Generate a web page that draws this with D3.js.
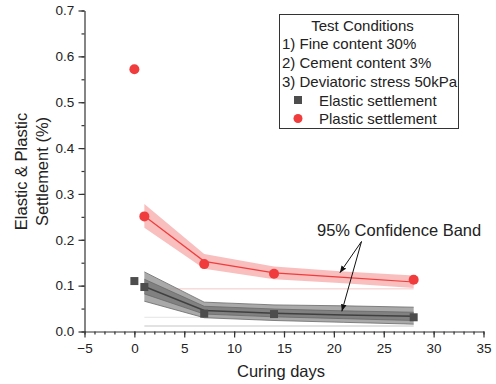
<!DOCTYPE html>
<html><head><meta charset="utf-8">
<script src="https://cdn.jsdelivr.net/npm/d3@7"></script>
<style>body{margin:0;background:#fff}svg{display:block;font-family:Arial,"Liberation Sans",sans-serif}</style>
</head><body>
<svg id="c" width="496" height="384"></svg>
<script>
const elasticDays = [0, 1, 7, 14, 28];
const elasticValues = [0.110, 0.097, 0.039, 0.038, 0.031];
const plasticDays = [0, 1, 7, 14, 28];
const plasticValues = [0.572, 0.251, 0.147, 0.126, 0.113];
const fitDays = [1, 7, 14, 21, 28];
const plasticFit = [0.252, 0.153, 0.128, 0.118, 0.108];
const plasticLower = [0.226, 0.137, 0.114, 0.105, 0.095];
const plasticUpper = [0.278, 0.169, 0.142, 0.131, 0.122];
const elasticFit = [0.098, 0.046, 0.040, 0.036, 0.033];
const elasticLower = [0.066, 0.030, 0.024, 0.020, 0.016];
const elasticUpper = [0.130, 0.064, 0.058, 0.056, 0.053];
const elasticInnerLower = [0.082, 0.038, 0.032, 0.028, 0.024];
const elasticInnerUpper = [0.114, 0.055, 0.049, 0.045, 0.042];
const xTicks = [-5, 0, 5, 10, 15, 20, 25, 30, 35];
const yTicks = [0.0, 0.1, 0.2, 0.3, 0.4, 0.5, 0.6, 0.7];
const legendLines = ["Test Conditions", "1) Fine content 30%", "2) Cement content 3%", "3) Deviatoric stress 50kPa"];
const seriesNames = ["Elastic settlement", "Plastic settlement"];

const svg = d3.select("#c");
const x = d3.scaleLinear().domain([-5, 35]).range([84.5, 483.5]);
const y = d3.scaleLinear().domain([0, 0.7]).range([331.5, 10.5]);
const red = "#f03c3c", gray = "#4d4d4d";

// faint artifact lines
svg.append("line").attr("x1", x(1)).attr("x2", x(28)).attr("y1", y(0.093)).attr("y2", y(0.093)).attr("stroke", "#f4c8c8").attr("stroke-width", 1);
svg.append("line").attr("x1", x(1)).attr("x2", x(28)).attr("y1", y(0.031)).attr("y2", y(0.031)).attr("stroke", "#e4e4e4").attr("stroke-width", 1);
svg.append("line").attr("x1", x(1)).attr("x2", x(28)).attr("y1", y(0.012)).attr("y2", y(0.012)).attr("stroke", "#d8d8d8").attr("stroke-width", 1.5);

const area = (lo, hi) => d3.area().x((d, i) => x(fitDays[i])).y0((d, i) => y(lo[i])).y1((d, i) => y(hi[i]));
const line = arr => d3.line().x((d, i) => x(fitDays[i])).y((d, i) => y(arr[i]));

// plastic band
svg.append("path").datum(fitDays).attr("d", area(plasticLower, plasticUpper)).attr("fill", "#f7a8a8").attr("opacity", 0.75);
svg.append("path").datum(fitDays).attr("d", line(plasticFit)).attr("fill", "none").attr("stroke", red).attr("stroke-width", 1.2);

// elastic band
svg.append("path").datum(fitDays).attr("d", area(elasticLower, elasticUpper)).attr("fill", "#9a9a9a").attr("opacity", 0.85);
svg.append("path").datum(fitDays).attr("d", area(elasticInnerLower, elasticInnerUpper)).attr("fill", "#7c7c7c").attr("opacity", 0.9);
[elasticLower, elasticUpper, elasticInnerLower, elasticInnerUpper].forEach(a =>
  svg.append("path").datum(fitDays).attr("d", line(a)).attr("fill", "none").attr("stroke", "#6a6a6a").attr("stroke-width", 0.8));
svg.append("path").datum(fitDays).attr("d", line(elasticFit)).attr("fill", "none").attr("stroke", "#404040").attr("stroke-width", 1.5);

// markers
svg.selectAll("rect.e").data(elasticDays).enter().append("rect").attr("class", "e")
  .attr("x", (d, i) => x(d) - 4).attr("y", (d, i) => y(elasticValues[i]) - 4)
  .attr("width", 8).attr("height", 8).attr("fill", gray);
svg.selectAll("circle.p").data(plasticDays).enter().append("circle").attr("class", "p")
  .attr("cx", d => x(d)).attr("cy", (d, i) => y(plasticValues[i])).attr("r", 5).attr("fill", red);

// axes
const xAxis = svg.append("g").attr("transform", "translate(0,331.5)");
xAxis.call(d3.axisBottom(x).tickValues(d3.range(-5, 36, 1)).tickSize(3).tickFormat("")).call(g => g.select(".domain").remove());
xAxis.append("g").call(d3.axisBottom(x).tickValues(xTicks).tickSize(6).tickSizeOuter(0).tickFormat(d3.format("d")))
  .call(g => g.selectAll("text").attr("font-size", 13.5).attr("fill", "#222").attr("dy", "0.9em"));
xAxis.selectAll("line,path").attr("stroke", "#333").attr("stroke-width", 1.2);

const yAxis = svg.append("g").attr("transform", "translate(84.5,0)");
yAxis.call(d3.axisLeft(y).tickValues(d3.range(0, 0.701, 0.05)).tickSize(3).tickFormat("")).call(g => g.select(".domain").remove());
yAxis.append("g").call(d3.axisLeft(y).tickValues(yTicks).tickSize(6).tickSizeOuter(0).tickFormat(d3.format(".1f")))
  .call(g => g.selectAll("text").attr("font-size", 13.5).attr("fill", "#222").attr("dx", "-0.1em"));
yAxis.selectAll("line,path").attr("stroke", "#333").attr("stroke-width", 1.2);

// axis titles
svg.append("text").attr("x", 281).attr("y", 377).attr("text-anchor", "middle").attr("font-size", 16.5).attr("fill", "#222").text("Curing days");
const yt = svg.append("text").attr("transform", "translate(0,171.5) rotate(-90)").attr("text-anchor", "middle").attr("font-size", 16.5).attr("fill", "#222");
yt.append("tspan").attr("x", 0).attr("y", 27).text("Elastic & Plastic");
yt.append("tspan").attr("x", 0).attr("y", 48).text("Settlement (%)");

// legend
svg.append("rect").attr("x", 279.5).attr("y", 14.5).attr("width", 179).attr("height", 114).attr("fill", "#fff").attr("stroke", "#333").attr("stroke-width", 1);
legendLines.forEach((t, i) => {
  svg.append("text").attr("x", i === 0 ? 362.5 : 282).attr("y", 30.5 + i * 18.7).attr("text-anchor", i === 0 ? "middle" : "start")
    .attr("font-size", 15).attr("fill", "#222").text(t);
});
svg.append("rect").attr("x", 294).attr("y", 96).attr("width", 8).attr("height", 8).attr("fill", gray);
svg.append("circle").attr("cx", 298).attr("cy", 118.5).attr("r", 4.5).attr("fill", red);
seriesNames.forEach((t, i) => {
  svg.append("text").attr("x", 319).attr("y", 105.5 + i * 18.5).attr("font-size", 15).attr("fill", "#222").text(t);
});

// annotation
svg.append("defs").append("marker").attr("id", "ah").attr("viewBox", "0 0 10 10").attr("refX", 10).attr("refY", 5)
  .attr("markerWidth", 7).attr("markerHeight", 7).attr("orient", "auto")
  .append("path").attr("d", "M0,1 L10,5 L0,9 Z").attr("fill", "#111");
svg.append("text").attr("x", 317).attr("y", 236).attr("font-size", 16.5).attr("fill", "#222").text("95% Confidence Band");
svg.append("line").attr("x1", 361.5).attr("y1", 241.5).attr("x2", x(20.6)).attr("y2", y(0.128)).attr("stroke", "#111").attr("stroke-width", 1).attr("marker-end", "url(#ah)");
svg.append("line").attr("x1", 361.5).attr("y1", 241.5).attr("x2", x(20.8)).attr("y2", y(0.044)).attr("stroke", "#111").attr("stroke-width", 1).attr("marker-end", "url(#ah)");
</script>
</body></html>
